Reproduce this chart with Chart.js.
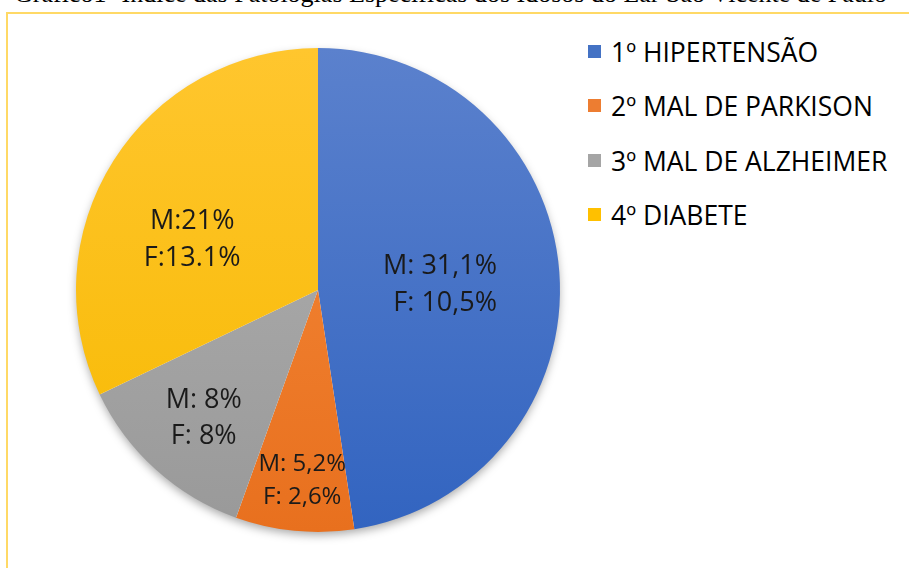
<!DOCTYPE html>
<html>
<head>
<meta charset="utf-8">
<script src="https://cdn.jsdelivr.net/npm/chart.js@4"></script>
<style>
  html, body { margin: 0; padding: 0; background: #fff; }
  body { width: 909px; height: 568px; position: relative; overflow: hidden; }
  .title {
    position: absolute; left: 14px; top: -19px; white-space: nowrap;
    font-family: "Liberation Serif", "DejaVu Serif", serif; font-size: 26px; line-height: 26px; color: #000;
  }
  .frame {
    position: absolute; left: 6px; top: 12px; width: 940px; height: 600px;
    border: 2px solid #ffd966; box-sizing: border-box;
  }
  .pie-wrap { position: absolute; left: 48px; top: 20px; width: 540px; height: 540px; }
  .legend { position: absolute; left: 588px; top: 0; font-family: "Open Sans", sans-serif; font-size: 26.5px; color: #000; }
  .legend .item { position: absolute; left: 0; white-space: nowrap; height: 30px; line-height: 30px; }
  .legend .box { position: absolute; left: 0; top: 8px; width: 13px; height: 13px; }
  .legend .txt { position: absolute; left: 23px; top: 0; }
</style>
</head>
<body>
<div class="title">Gráfico1- Índice das Patologias Específicas dos Idosos do Lar São Vicente de Paulo</div>
<div class="frame"></div>
<div class="pie-wrap"><canvas id="pieChart"></canvas></div>
<div class="legend" id="legend"></div>

<script>
// data (slice share, percent of the pie)
const categories = ['1º HIPERTENSÃO', '2º MAL DE PARKISON', '3º MAL DE ALZHEIMER', '4º DIABETE'];
const shares = [47.6, 7.9, 12.4, 32.1];
const maleLabels = ['M: 31,1%', 'M: 5,2%', 'M: 8%', 'M:21%'];
const femaleLabels = ['F: 10,5%', 'F: 2,6%', 'F: 8%', 'F:13.1%'];
const colors = ['#4472c4', '#ed7d31', '#a5a5a5', '#ffc000'];
// lighter top / darker bottom of each slice's shading
const topColors = ['#5b81cd', '#f68b3c', '#b2b2b2', '#ffc62e'];
const bottomColors = ['#3264c0', '#e8701e', '#999999', '#f7b900'];

// where each label sits inside its slice: fraction along the arc, fraction of radius
const labelPlace = [
    { t: 0.515, r: 0.74, align: 'right', size: 27 },
    { t: 0.47, r: 0.79, align: 'center', size: 24 },
    { t: 0.49, r: 0.71, align: 'center', size: 27 },
    { t: 0.41, r: 0.56, align: 'center', size: 27 }
];

// soft shadow under the whole pie
const pieShadow = {
    id: 'pieShadow',
    beforeDatasetsDraw(chart) {
        const arc = chart.getDatasetMeta(0).data[0];
        if (!arc) return;
        const ctx = chart.ctx;
        ctx.save();
        ctx.shadowColor = 'rgba(0,0,0,0.35)';
        ctx.shadowBlur = 10;
        ctx.shadowOffsetY = 4;
        ctx.fillStyle = '#fff';
        ctx.beginPath();
        ctx.arc(arc.x, arc.y, arc.outerRadius - 1, 0, Math.PI * 2);
        ctx.fill();
        ctx.restore();
    }
};

// two-line labels inside the slices
const sliceLabels = {
    id: 'sliceLabels',
    afterDatasetsDraw(chart) {
        const ctx = chart.ctx;
        chart.getDatasetMeta(0).data.forEach((arc, i) => {
            const p = labelPlace[i];
            const a = arc.startAngle + (arc.endAngle - arc.startAngle) * p.t;
            const x = arc.x + Math.cos(a) * arc.outerRadius * p.r;
            const y = arc.y + Math.sin(a) * arc.outerRadius * p.r;
            const gap = p.size * 0.68;
            ctx.save();
            ctx.font = p.size + 'px "Open Sans"';
            ctx.fillStyle = '#1a1a1a';
            ctx.textAlign = p.align;
            ctx.textBaseline = 'middle';
            ctx.fillText(maleLabels[i], x, y - gap);
            ctx.fillText(femaleLabels[i], x, y + gap);
            ctx.restore();
        });
    }
};

function sliceFill(context) {
    const area = context.chart.chartArea;
    const i = context.dataIndex;
    if (!area) return colors[i];
    const g = context.chart.ctx.createLinearGradient(0, area.top, 0, area.bottom);
    g.addColorStop(0, topColors[i]);
    g.addColorStop(1, bottomColors[i]);
    return g;
}

const ctx = document.getElementById('pieChart').getContext('2d');
const pieChart = new Chart(ctx, {
    type: 'pie',
    data: {
        labels: categories,
        datasets: [{
            data: shares,
            backgroundColor: sliceFill,
            borderWidth: 0
        }]
    },
    options: {
        responsive: true,
        maintainAspectRatio: false,
        animation: false,
        layout: { padding: 28 },
        plugins: {
            legend: { display: false },
            tooltip: { enabled: false }
        }
    },
    plugins: [pieShadow, sliceLabels]
});

// legend on the right
const legendRows = [52, 106, 161, 215];
const legend = document.getElementById('legend');
categories.forEach((name, i) => {
    const item = document.createElement('div');
    item.className = 'item';
    item.style.top = (legendRows[i] - 15) + 'px';
    item.innerHTML = '<span class="box" style="background:' + colors[i] + '"></span><span class="txt">' + name + '</span>';
    legend.appendChild(item);
});
</script>
</body>
</html>
